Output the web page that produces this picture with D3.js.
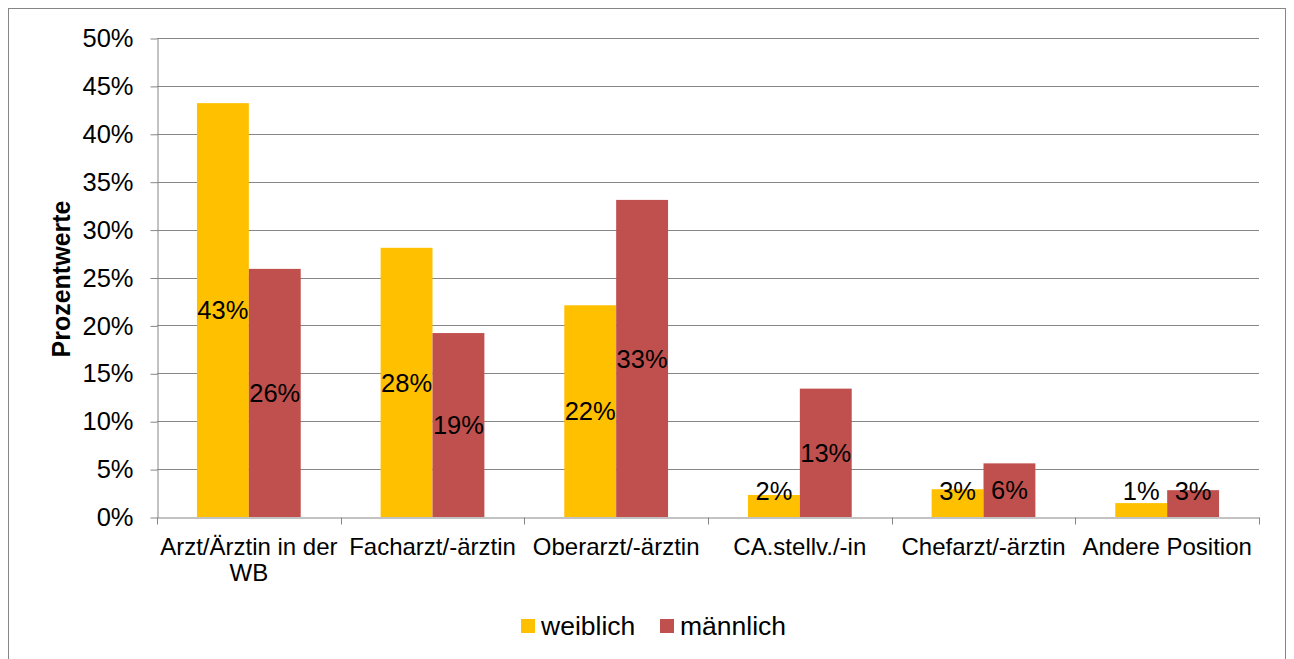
<!DOCTYPE html>
<html><head><meta charset="utf-8">
<script src="https://cdn.jsdelivr.net/npm/d3@7"></script>
<style>body{margin:0;background:#fff;} svg{display:block;font-family:"Liberation Sans",Arial,sans-serif;}</style>
</head><body>
<svg id="c" width="1294" height="659"></svg>
<script>
const categories = ["Arzt/Ärztin in der WB","Facharzt/-ärztin","Oberarzt/-ärztin","CA.stellv./-in","Chefarzt/-ärztin","Andere Position"];
const seriesNames = ["weiblich","männlich"];
const weiblich = [43.2, 28.1, 22.1, 2.3, 2.9, 1.45];
const maennlich = [25.9, 19.2, 33.1, 13.4, 5.6, 2.8];
const labelsW = ["43%","28%","22%","2%","3%","1%"];
const labelsM = ["26%","19%","33%","13%","6%","3%"];
const yTicks = [0,5,10,15,20,25,30,35,40,45,50];
const colors = ["#FFC000","#C0504D"];

const svg = d3.select("#c");
svg.append("rect").attr("x",8.5).attr("y",8.5).attr("width",1277).attr("height",670)
  .attr("fill","none").attr("stroke","#868686").attr("stroke-width",1);

const L=157, R=1259, T=38, B=517;
const x = d3.scaleBand().domain(categories).range([L,R]).paddingInner(0.435).paddingOuter(0.2175);
const x0 = d3.scaleBand().domain(categories).range([L,R]);
const xs = d3.scaleBand().domain(seriesNames).range([0,x.bandwidth()]);
const y = d3.scaleLinear().domain([0,50]).range([B,T]);

svg.append("g").selectAll("line").data(yTicks.filter(d=>d>0)).join("line")
  .attr("x1",L).attr("x2",R).attr("y1",d=>Math.round(y(d))+0.5).attr("y2",d=>Math.round(y(d))+0.5)
  .attr("stroke","#868686").attr("stroke-width",1);

const yAxis = d3.axisLeft(y).tickValues(yTicks).tickFormat(d=>d+"%").tickSize(7).tickSizeOuter(0);
const gy = svg.append("g").attr("transform",`translate(${L+0.5},0.5)`).call(yAxis);
gy.select(".domain").attr("stroke","#868686");
gy.selectAll(".tick line").attr("stroke","#868686");
gy.selectAll(".tick text").attr("font-size","25.5px").attr("fill","#000").attr("x",-24).attr("font-family","Liberation Sans, Arial, sans-serif");

const data = categories.map((c,i)=>({c, vals:[weiblich[i],maennlich[i]], labs:[labelsW[i],labelsM[i]]}));
const g = svg.append("g");
data.forEach(d=>{
  d.vals.forEach((v,j)=>{
    const bx = x(d.c)+xs(seriesNames[j]);
    g.append("rect").attr("x",bx).attr("y",y(v)).attr("width",xs.bandwidth()).attr("height",B-y(v)).attr("fill",colors[j]);
  });
});
const xAxis = d3.axisBottom(x0).tickSize(0).tickSizeOuter(0);
const gx = svg.append("g").attr("transform",`translate(0,${B+0.5})`).call(xAxis);
gx.select(".domain").attr("stroke","#868686");
gx.selectAll(".tick text").remove();
const bounds = d3.range(categories.length+1).map(i=> i<categories.length ? x0(categories[i]) : R);
gx.append("g").selectAll("line").data(bounds).join("line")
  .attr("x1",d=>Math.round(d)+0.5).attr("x2",d=>Math.round(d)+0.5).attr("y1",0).attr("y2",7).attr("stroke","#868686");
data.forEach(d=>{
  const cx = x0(d.c)+x0.bandwidth()/2;
  const t = svg.append("text").attr("text-anchor","middle").attr("font-size","24px").attr("fill","#000");
  if(d.c==="Arzt/Ärztin in der WB"){
    t.append("tspan").attr("x",cx).attr("y",555).text("Arzt/Ärztin in der");
    t.append("tspan").attr("x",cx).attr("y",581).text("WB");
  } else {
    t.append("tspan").attr("x",cx).attr("y",555).text(d.c);
  }
});
data.forEach(d=>{
  d.vals.forEach((v,j)=>{
    const cx = x(d.c)+xs(seriesNames[j])+xs.bandwidth()/2;
    const cy = Math.min((y(v)+B)/2, y(2.75));
    svg.append("text").attr("x",cx).attr("y",cy).attr("dy","0.36em").attr("text-anchor","middle")
      .attr("font-size","25.5px").attr("fill","#000").text(d.labs[j]);
  });
});
svg.append("text").attr("transform",`translate(70,279) rotate(-90)`).attr("text-anchor","middle")
  .attr("font-size","25px").attr("font-weight","bold").attr("fill","#000").text("Prozentwerte");
const leg = [{n:"weiblich",x:521,c:colors[0]},{n:"männlich",x:660,c:colors[1]}];
leg.forEach(l=>{
  svg.append("rect").attr("x",l.x).attr("y",619).attr("width",14).attr("height",14).attr("fill",l.c);
  svg.append("text").attr("x",l.x+20).attr("y",635).attr("font-size","26.5px").attr("fill","#000").text(l.n);
});
</script>
</body></html>
